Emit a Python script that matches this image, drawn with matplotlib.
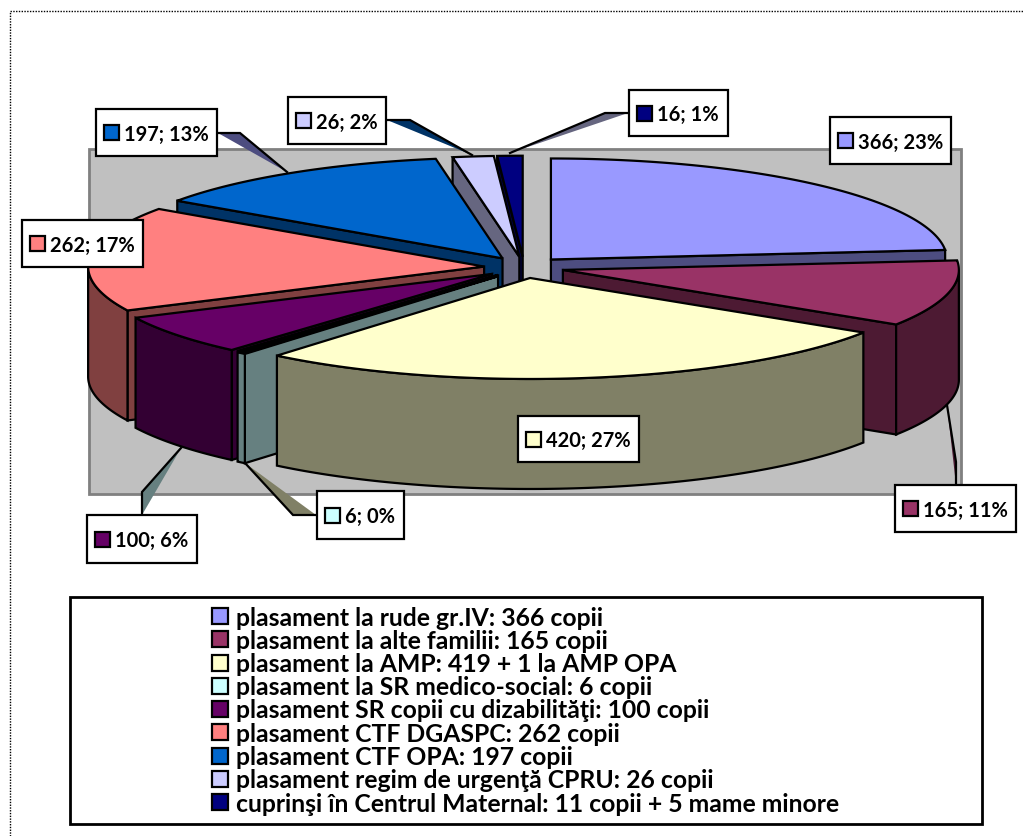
import numpy as np
import matplotlib
matplotlib.use("Agg")
import matplotlib.pyplot as plt
from matplotlib.patches import Polygon, Rectangle

plt.rcParams['font.family'] = ['Lato', 'DejaVu Sans']
plt.rcParams['font.weight'] = 'bold'

# data
legend_labels = ["plasament la rude gr.IV: 366 copii",
                 "plasament la alte familii: 165 copii",
                 "plasament la AMP: 419 + 1 la AMP OPA",
                 "plasament la SR medico-social: 6 copii",
                 "plasament SR copii cu dizabilităţi: 100 copii",
                 "plasament CTF DGASPC: 262 copii",
                 "plasament CTF OPA: 197 copii",
                 "plasament regim de urgenţă CPRU: 26 copii",
                 "cuprinşi în Centrul Maternal: 11 copii + 5 mame minore"]
values = [366, 165, 420, 6, 100, 262, 197, 26, 16]
top_colors = ["#9999FF", "#993366", "#FFFFCC", "#CCFFFF", "#660066",
              "#FF8080", "#0066CC", "#CCCCFF", "#000080"]
side_colors = ["#4D4D80", "#4D1A33", "#808066", "#668080", "#330033",
               "#804040", "#003366", "#666680", "#000040"]

# label boxes: x0, y0, x1, y1
boxes = [(830, 117, 951, 164), (895, 485, 1016, 532), (518, 416, 639, 462),
         (317, 491, 404, 539), (87, 515, 197, 563), (22, 220, 143, 267),
         (96, 109, 217, 156), (288, 97, 386, 144), (629, 90, 728, 136)]
leaders = {1: ((947, 405), (956, 462), (956, 485), "#4D1A33"),
           3: ((245, 463), (293, 515), (316, 515), "#808066"),
           4: ((181, 448), (142, 492), (142, 515), "#668080"),
           6: ((287, 172), (240, 133), (218, 133), "#4D4D80"),
           7: ((472, 155), (410, 120), (387, 120), "#003366"),
           8: ((510, 153), (605, 113), (628, 113), "#666680")}

# pie geometry in pixels
cx, cy = 524.0, 267.4
rx, ry = 396.0, 101.0
expl_x, expl_y = 40.0, 10.7
depth = 110.0
lw = 1.6

fig = plt.figure(figsize=(10.24, 8.36), dpi=100)
ax = fig.add_axes([0, 0, 1, 1])
ax.set_xlim(0, 1024)
ax.set_ylim(836, 0)
ax.axis("off")

# dotted chart border
ax.plot([9.5, 9.5, 1024], [836, 11, 11], color="black", lw=1, ls=(0, (1, 1)))

# plot area
ax.add_patch(Rectangle((89, 149), 872, 345, fc="#C0C0C0", ec="#808080", lw=2, zorder=1))


def arc(ax0, ay0, t0, t1):
    t = np.radians(np.linspace(t0, t1, 100))
    return np.column_stack([ax0 + rx * np.sin(t), ay0 - ry * np.cos(t)])


def poly(pts, fc, z, w=lw):
    ax.add_patch(Polygon(pts, closed=True, fc=fc, ec="black", lw=w, joinstyle="miter", zorder=z))


total = sum(values)
edges = np.concatenate([[0], np.cumsum(values)]) * 360.0 / total

# back slices first, the big front one last
order = [8, 7, 6, 5, 4, 3, 0, 1, 2]
z = 2
for i in order:
    t0, t1 = edges[i], edges[i + 1]
    mid = np.radians((t0 + t1) / 2)
    ax0 = cx + expl_x * np.sin(mid)
    ay0 = cy - expl_y * np.cos(mid)
    down = np.array([0, depth])
    apex = np.array([ax0, ay0])
    # radial walls facing the viewer
    if 180 < t0 < 360:
        p = arc(ax0, ay0, t0, t0)[0]
        poly([apex, p, p + down, apex + down], side_colors[i], z)
    if 0 < t1 < 180:
        p = arc(ax0, ay0, t1, t1)[0]
        poly([apex, p, p + down, apex + down], side_colors[i], z)
    # outer rim, front half only
    a = max(t0, 90)
    b = min(t1, 270)
    if b > a:
        rim = arc(ax0, ay0, a, b)
        poly(np.vstack([rim, (rim + down)[::-1]]), side_colors[i], z)
    # top face, the thinnest slice only shows as a dark line in the original
    top_w = 2.6 if values[i] < 10 else lw
    poly(np.vstack([apex, arc(ax0, ay0, t0, t1)]), top_colors[i], z + 0.5, top_w)
    z += 1

# leader lines
for i, (p0, p1, p2, col) in leaders.items():
    ax.add_patch(Polygon([p0, p1, p2], closed=True, fc=col, ec="none", zorder=20))
    ax.plot([p0[0], p1[0], p2[0]], [p0[1], p1[1], p2[1]], color="black", lw=lw,
            solid_joinstyle="miter", zorder=21)

# data labels
for i, (x0, y0, x1, y1) in enumerate(boxes):
    ax.add_patch(Rectangle((x0, y0), x1 - x0, y1 - y0, fc="white", ec="black", lw=lw, zorder=22))
    ym = (y0 + y1) / 2
    ax.add_patch(Rectangle((x0 + 8, ym - 7.5), 15, 15, fc=top_colors[i], ec="black", lw=lw, zorder=23))
    pct = round(100 * values[i] / total)
    ax.text(x0 + 28, ym, f"{values[i]}; {pct}%", fontsize=14.5, va="center_baseline", ha="left", zorder=23)

# legend
ax.add_patch(Rectangle((70, 597), 912, 227, fc="white", ec="black", lw=2, zorder=22))
for i, lab in enumerate(legend_labels):
    y = 616 + i * 23.25
    ax.add_patch(Rectangle((212, y - 8), 16, 16, fc=top_colors[i], ec="black", lw=lw, zorder=23))
    ax.text(236, y, lab, fontsize=17.8, va="center_baseline", ha="left", zorder=23)

fig.savefig("out.png", dpi=100)
